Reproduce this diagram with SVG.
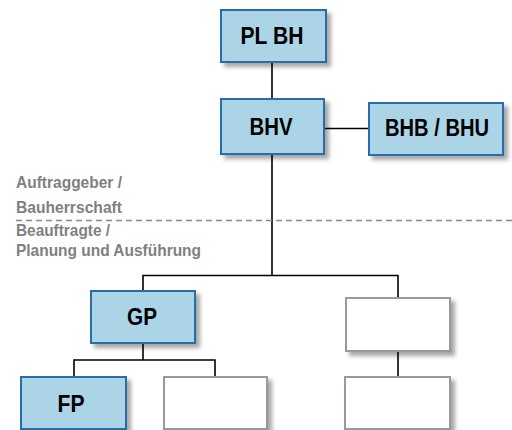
<svg xmlns="http://www.w3.org/2000/svg" width="512" height="430" viewBox="0 0 512 430">
<defs>
<filter id="sh" x="-20%" y="-20%" width="150%" height="160%">
<feDropShadow dx="4" dy="4" stdDeviation="2" flood-color="#000" flood-opacity="0.35"/>
</filter>
<style>
.blue{fill:#abd5e7;stroke:#2b6ca8;stroke-width:2;filter:url(#sh)}
.white{fill:#fff;stroke:#999;stroke-width:2;filter:url(#sh)}
.lbl{font-family:"Liberation Sans",Arial,sans-serif;font-weight:bold;font-size:24px;fill:#000;text-anchor:middle}
.side{font-family:"Liberation Sans",Arial,sans-serif;font-weight:bold;font-size:17px;fill:#808080}
.con{stroke:#000;stroke-width:1.6;fill:none}
</style>
</defs>
<rect width="512" height="430" fill="#fff"/>
<g id="connectors">
<line class="con" x1="272" y1="62" x2="272" y2="99"/>
<line class="con" x1="324" y1="128.5" x2="369" y2="128.5"/>
<polyline class="con" points="272,154 272,275.5"/>
<polyline class="con" points="143,291 143,275.5 398,275.5 398,298"/>
<polyline class="con" points="74,377 74,360 215,360 215,377"/>
<line class="con" x1="143" y1="343" x2="143" y2="360"/>
<line class="con" x1="398" y1="351" x2="398" y2="377"/>
</g>
<g id="divider">
<line x1="16" y1="220.5" x2="512" y2="220.5" stroke="#888" stroke-width="1.5" stroke-dasharray="6,4"/>
<text class="side" x="16" y="188" textLength="106" lengthAdjust="spacingAndGlyphs">Auftraggeber /</text>
<text class="side" x="16" y="213" textLength="106" lengthAdjust="spacingAndGlyphs">Bauherrschaft</text>
<text class="side" x="16" y="236" textLength="94" lengthAdjust="spacingAndGlyphs">Beauftragte /</text>
<text class="side" x="16" y="256" textLength="185" lengthAdjust="spacingAndGlyphs">Planung und Ausführung</text>
</g>
<g id="plbh">
<rect class="blue" x="221" y="10" width="105" height="52"/>
<text class="lbl" x="272" y="43.5" textLength="63" lengthAdjust="spacingAndGlyphs">PL BH</text>
</g>
<g id="bhv">
<rect class="blue" x="221" y="99" width="103" height="55"/>
<text class="lbl" x="271" y="135" textLength="43" lengthAdjust="spacingAndGlyphs">BHV</text>
</g>
<g id="bhb">
<rect class="blue" x="369" y="103" width="134" height="52"/>
<text class="lbl" x="437" y="136" textLength="104" lengthAdjust="spacingAndGlyphs">BHB / BHU</text>
</g>
<g id="gp">
<rect class="blue" x="91" y="291" width="104" height="52"/>
<text class="lbl" x="142" y="325" textLength="30" lengthAdjust="spacingAndGlyphs">GP</text>
</g>
<g id="blank1">
<rect class="white" x="346" y="298" width="104" height="53"/>
</g>
<g id="fp">
<rect class="blue" x="21" y="377" width="105" height="52"/>
<text class="lbl" x="71" y="412" textLength="27" lengthAdjust="spacingAndGlyphs">FP</text>
</g>
<g id="blank2">
<rect class="white" x="164" y="377" width="103" height="52"/>
</g>
<g id="blank3">
<rect class="white" x="345" y="377" width="105" height="52"/>
</g>
</svg>
